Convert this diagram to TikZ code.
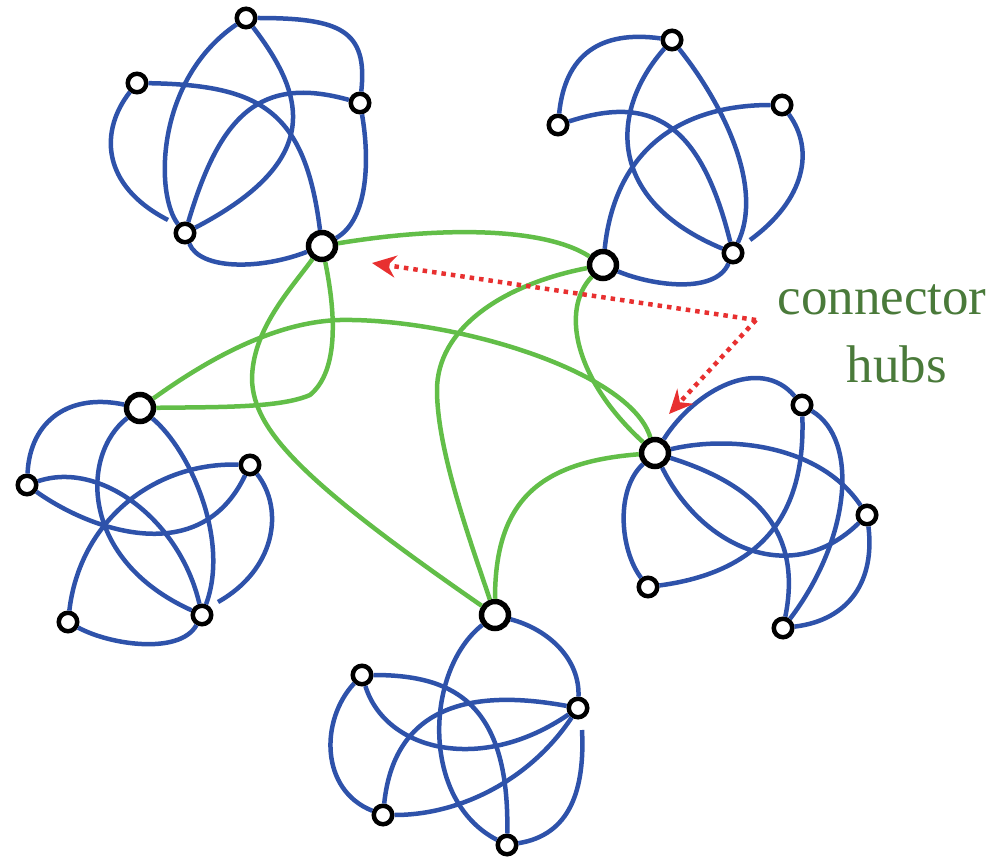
\documentclass[tikz,border=0pt]{standalone}
\usepackage{fontspec}
\setmainfont{Liberation Serif}
\usetikzlibrary{arrows.meta}
\definecolor{netblue}{RGB}{46,82,170}
\definecolor{netgreen}{RGB}{98,190,72}
\definecolor{labelgreen}{RGB}{74,122,58}
\definecolor{hubred}{RGB}{232,48,48}
\tikzset{
  smallnode/.style={circle,draw=black,fill=white,line width=4.5pt,minimum size=18.5pt,inner sep=0pt},
  hubnode/.style={circle,draw=black,fill=white,line width=5.5pt,minimum size=27pt,inner sep=0pt},
  intra/.style={draw=netblue,line width=4.5pt},
  inter/.style={draw=netgreen,line width=4.5pt},
  pointer/.style={draw=hubred,line width=4.5pt,dash pattern=on 4.5pt off 5pt,-{Stealth[length=24pt,width=22pt,inset=8pt]}},
  labeltext/.style={text=labelgreen,font=\fontsize{53}{64}\selectfont,inner sep=0pt,anchor=base}
}
\begin{document}
\begin{tikzpicture}[x=1pt,y=-1pt]
\useasboundingbox (0,0) rectangle (993,858);
% ---- nodes: cluster A (top left)
\node[smallnode] (A1) at (246,18) {};
\node[smallnode] (A2) at (137,83) {};
\node[smallnode] (A3) at (360,103) {};
\node[smallnode] (A4) at (185,233) {};
\node[hubnode]   (Ah) at (322,246) {};
% cluster B (top right)
\node[smallnode] (B1) at (672,40) {};
\node[smallnode] (B2) at (558,125) {};
\node[smallnode] (B3) at (782,105) {};
\node[smallnode] (B4) at (733,253) {};
\node[hubnode]   (Bh) at (603,265) {};
% cluster C (left)
\node[smallnode] (C1) at (27,485) {};
\node[smallnode] (C2) at (250,465) {};
\node[smallnode] (C3) at (202,615) {};
\node[smallnode] (C4) at (68,622) {};
\node[hubnode]   (Ch) at (140,408) {};
% cluster D (right)
\node[smallnode] (D1) at (802,405) {};
\node[smallnode] (D2) at (867,515) {};
\node[smallnode] (D3) at (648,587) {};
\node[smallnode] (D4) at (783,628) {};
\node[hubnode]   (Dh) at (655,453) {};
% cluster E (bottom)
\node[smallnode] (E1) at (362,675) {};
\node[smallnode] (E2) at (578,708) {};
\node[smallnode] (E3) at (383,815) {};
\node[smallnode] (E4) at (507,845) {};
\node[hubnode]   (Eh) at (495,615) {};
% free ends of edges that stop short
\coordinate (Ag) at (168,220);
\coordinate (Bg) at (750,240);
\coordinate (Cg) at (218,602);
\coordinate (Eg) at (582,730);
% ---- intra-module edges
\draw[intra] (A1) .. controls (340,18) and (368,30) .. (A3);
\draw[intra] (A1) .. controls (155,80) and (155,195) .. (A4);
\draw[intra] (A1) .. controls (305,95) and (325,160) .. (A4);
\draw[intra] (A2) .. controls (100,130) and (100,185) .. (Ag);
\draw[intra] (A2) .. controls (260,85) and (305,110) .. (Ah);
\draw[intra] (A3) .. controls (370,160) and (368,220) .. (Ah);
\draw[intra] (A4) .. controls (200,270) and (260,270) .. (Ah);
\draw[intra] (A4) .. controls (220,115) and (260,75) .. (A3);

\draw[intra] (B2) .. controls (565,55) and (600,30) .. (B1);
\draw[intra] (B1) .. controls (720,100) and (765,185) .. (B4);
\draw[intra] (B1) .. controls (610,110) and (605,200) .. (B4);
\draw[intra] (B2) .. controls (650,95) and (700,120) .. (B4);
\draw[intra] (B3) .. controls (680,105) and (615,150) .. (Bh);
\draw[intra] (B3) .. controls (815,150) and (805,200) .. (Bg);
\draw[intra] (Bh) .. controls (650,285) and (715,295) .. (B4);

\draw[intra] (C1) .. controls (30,420) and (70,393) .. (Ch);
\draw[intra] (Ch) .. controls (80,455) and (80,560) .. (C3);
\draw[intra] (Ch) .. controls (190,450) and (230,540) .. (C3);
\draw[intra] (C1) .. controls (100,460) and (180,520) .. (C3);
\draw[intra] (C1) .. controls (90,530) and (200,570) .. (C2);
\draw[intra] (C2) .. controls (155,462) and (80,520) .. (C4);
\draw[intra] (C2) .. controls (285,510) and (275,570) .. (Cg);
\draw[intra] (C4) .. controls (110,645) and (180,655) .. (C3);

\draw[intra] (Dh) .. controls (695,390) and (760,355) .. (D1);
\draw[intra] (Dh) .. controls (730,435) and (820,445) .. (D2);
\draw[intra] (Dh) .. controls (615,490) and (620,550) .. (D3);
\draw[intra] (Dh) .. controls (740,480) and (805,520) .. (D4);
\draw[intra] (Dh) .. controls (700,545) and (790,590) .. (D2);
\draw[intra] (D1) .. controls (805,500) and (775,570) .. (D3);
\draw[intra] (D1) .. controls (860,440) and (850,540) .. (D4);
\draw[intra] (D2) .. controls (875,580) and (850,620) .. (D4);

\draw[intra] (Eh) .. controls (550,630) and (580,660) .. (E2);
\draw[intra] (Eh) .. controls (425,670) and (420,800) .. (E4);
\draw[intra] (E1) .. controls (450,675) and (510,700) .. (E4);
\draw[intra] (E1) .. controls (385,750) and (480,775) .. (E2);
\draw[intra] (E1) .. controls (320,720) and (320,790) .. (E3);
\draw[intra] (E2) .. controls (480,690) and (395,700) .. (E3);
\draw[intra] (E3) .. controls (460,815) and (530,780) .. (E2);
\draw[intra] (Eg) .. controls (585,790) and (570,835) .. (E4);
% ---- connector-hub edges
\draw[inter] (Ah) .. controls (430,228) and (540,225) .. (Bh);
\draw[inter] (Ah) .. controls (335,310) and (340,370) .. (310,395) .. controls (280,408) and (220,407) .. (Ch);
\draw[inter] (Ah) .. controls (290,290) and (252,330) .. (252,380) .. controls (254,430) and (300,480) .. (Eh);
\draw[inter] (Ch) .. controls (200,365) and (270,322) .. (340,320) .. controls (450,318) and (630,370) .. (Dh);
\draw[inter] (Bh) .. controls (500,285) and (437,330) .. (437,390) .. controls (437,450) and (470,540) .. (Eh);
\draw[inter] (Bh) .. controls (560,310) and (575,380) .. (Dh);
\draw[inter] (Dh) .. controls (540,462) and (495,500) .. (Eh);
% ---- label and pointers
\node[labeltext] (lab1) at (882,315) {connector};
\node[labeltext] (lab2) at (897,382) {hubs};
\coordinate (K) at (756,320);
\coordinate (T1) at (372,263);
\coordinate (T2) at (669,414);
\draw[pointer] (K) -- (T1);
\draw[pointer] (K) -- (T2);
\end{tikzpicture}
\end{document}
